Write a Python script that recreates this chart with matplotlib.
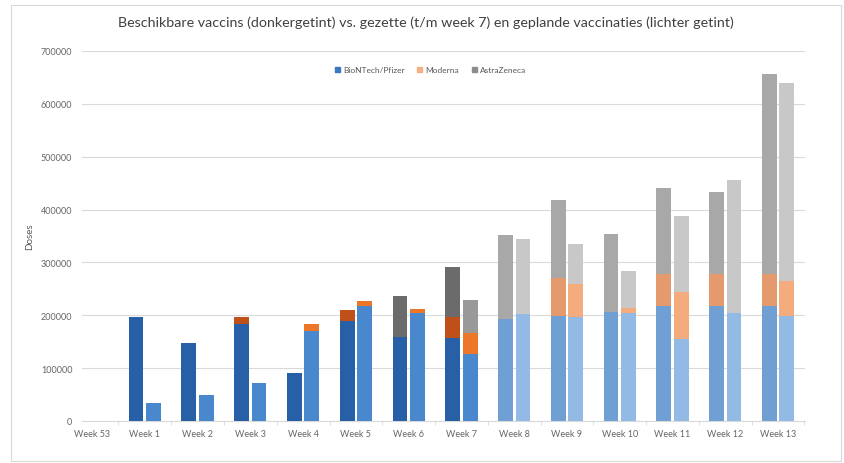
import matplotlib
matplotlib.use('Agg')
import matplotlib.pyplot as plt
import numpy as np
from matplotlib.patches import Patch, Rectangle

plt.rcParams['font.family'] = ['Lato', 'DejaVu Sans']

# data (doses), left bar = beschikbaar, right bar = gezet / gepland
weeks = ['Week 53', 'Week 1', 'Week 2', 'Week 3', 'Week 4', 'Week 5', 'Week 6',
         'Week 7', 'Week 8', 'Week 9', 'Week 10', 'Week 11', 'Week 12', 'Week 13']
avail_pfizer = [0, 197000, 148000, 183000, 91500, 189000, 158000, 157000,
                193000, 199000, 206000, 217000, 217000, 217000]
avail_moderna = [0, 0, 0, 14000, 0, 21000, 0, 40000, 0, 72000, 0, 61000, 61000, 61000]
avail_az = [0, 0, 0, 0, 0, 0, 79000, 95000, 159000, 148000, 147000, 162000, 156000, 378000]
given_pfizer = [0, 34000, 50000, 72500, 170000, 218000, 205000, 126000,
                203000, 197000, 204000, 155000, 204000, 199000]
given_moderna = [0, 0, 0, 0, 13000, 9000, 6500, 40000, 0, 62000, 10000, 90000, 0, 65000]
given_az = [0, 0, 0, 0, 0, 0, 0, 63000, 142000, 76000, 69000, 143000, 252000, 376000]
last_actual = 7  # t/m week 7

# kleuren: (werkelijk, gepland)
col_avail = {'pf': ('#2760A6', '#6F9FD3'), 'mo': ('#C0501A', '#E49A6C'), 'az': ('#6B6B6B', '#A8A8A8')}
col_given = {'pf': ('#4A88CE', '#93BAE4'), 'mo': ('#EE7628', '#F4AC7E'), 'az': ('#999999', '#C8C8C8')}

fig = plt.figure(figsize=(8.44, 4.64), dpi=100)
ax = fig.add_axes([82/844, 1-422/464, (805-82)/844, (422-52)/464])

x = np.arange(len(weeks))
w = 0.28
off = 0.165


def stack(xpos, pf, mo, az, cols):
    for i in range(len(xpos)):
        k = 0 if i <= last_actual else 1
        b = 0
        for val, key in ((pf[i], 'pf'), (mo[i], 'mo'), (az[i], 'az')):
            if val > 0:
                ax.bar(xpos[i], val, w, bottom=b, color=cols[key][k], zorder=3)
                b += val


stack(x - off, avail_pfizer, avail_moderna, avail_az, col_avail)
stack(x + off, given_pfizer, given_moderna, given_az, col_given)

ax.set_ylim(0, 700000)
ax.set_yticks(np.arange(0, 700001, 100000))
ax.set_xlim(-0.19, 13.51)
ax.set_xticks(x)
ax.set_xticklabels(weeks)
ax.set_xticks(np.arange(-0.5, 14, 1)[1:], minor=True)
ax.tick_params(axis='x', which='major', length=0, labelsize=6.5, colors='#666666', pad=6)
ax.tick_params(axis='x', which='minor', length=3, color='#D9D9D9')
ax.tick_params(axis='y', length=0, labelsize=6.5, colors='#666666', pad=7)
ax.grid(axis='y', color='#DADADA', linewidth=0.8, zorder=0)
for s in ['top', 'right', 'left']:
    ax.spines[s].set_visible(False)
ax.spines['bottom'].set_color('#D9D9D9')
ax.set_ylabel('Doses', fontsize=7, color='#595959', labelpad=5)

fig.text(0.505, 1-23/464, 'Beschikbare vaccins (donkergetint) vs. gezette (t/m week 7) en geplande vaccinaties (lichter getint)',
         ha='center', va='center', fontsize=10.3, color='#404040')

handles = [Patch(color='#3A78C0', label='BioNTech/Pfizer'),
           Patch(color='#F4B183', label='Moderna'),
           Patch(color='#8C8C8C', label='AstraZeneca')]
leg = fig.legend(handles=handles, loc='center', bbox_to_anchor=(0.51, 1-71/464), ncol=3,
                 frameon=False, fontsize=6, handlelength=0.6, handleheight=0.6,
                 columnspacing=1.5, handletextpad=0.4, labelcolor='#595959')

# kader rond de grafiek
fig.patches.append(Rectangle((11/844, 2/464), 830/844, 456/464, transform=fig.transFigure,
                             fill=False, edgecolor='#D9D9D9', linewidth=0.8))

fig.savefig('out.png', dpi=100)
